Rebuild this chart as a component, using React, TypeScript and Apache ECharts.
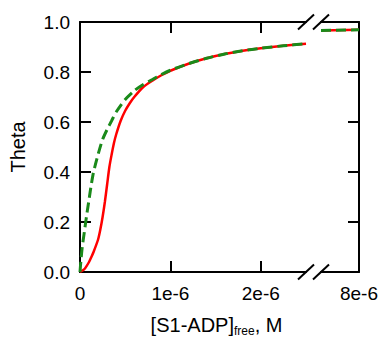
import React, { useEffect, useRef } from "react";
import * as echarts from "echarts";

// x values in units of 1e-6 M
const greenX = [0, 0.01, 0.025, 0.05, 0.075, 0.1, 0.125, 0.15, 0.2, 0.25, 0.3, 0.35, 0.4, 0.5, 0.6, 0.7, 0.8, 0.9, 1.0, 1.2, 1.4, 1.6, 1.8, 2.0, 2.25, 2.5];
const greenY = [0, 0.045, 0.1, 0.165, 0.23, 0.29, 0.35, 0.4, 0.47, 0.53, 0.57, 0.605, 0.64, 0.69, 0.725, 0.75, 0.77, 0.79, 0.807, 0.833, 0.855, 0.872, 0.885, 0.895, 0.905, 0.913];
const redX = [0, 0.05, 0.1, 0.126, 0.15, 0.2, 0.225, 0.25, 0.275, 0.3, 0.325, 0.35, 0.375, 0.4, 0.45, 0.5, 0.55, 0.6, 0.7, 0.8, 0.9, 1.0, 1.2, 1.4, 1.6, 1.8, 2.0, 2.25, 2.5];
const redY = [0, 0.012, 0.04, 0.06, 0.08, 0.13, 0.17, 0.22, 0.28, 0.35, 0.42, 0.47, 0.515, 0.55, 0.605, 0.645, 0.675, 0.7, 0.74, 0.765, 0.787, 0.805, 0.833, 0.855, 0.872, 0.885, 0.895, 0.905, 0.913];
const tailX = [7.5, 8.0];
const tailGreenY = [0.966, 0.969];
const tailRedY = [0.966, 0.969];
const leftTicks = [0, 1, 2];
const rightTicks = [8];
const yTicks = [0, 0.2, 0.4, 0.6, 0.8, 1.0];

const zip = (xs: number[], ys: number[]) => xs.map((x, i) => [x, ys[i]]);

const FONT = "'Liberation Sans', Arial, sans-serif";
const RED = "#ff0000";
const GREEN = "#1a8a1a";

export default function App() {
  const ref = useRef<HTMLDivElement>(null);
  useEffect(() => {
    document.body.style.margin = "0";
    const chart = echarts.init(ref.current!, null, { renderer: "svg" });
    const axisLine = { show: true, lineStyle: { color: "#000", width: 2 } };
    const tick = { show: true, inside: true, length: 11, lineStyle: { color: "#000", width: 2 } };
    const labelStyle = { color: "#000", fontSize: 19, fontFamily: FONT };
    const slash = (cx: number, cy: number) => ({
      type: "line",
      shape: { x1: cx - 8, y1: cy + 7.5, x2: cx + 8, y2: cy - 7.5 },
      style: { stroke: "#000", lineWidth: 2 },
      z: 100,
    });
    chart.setOption({
      animation: false,
      backgroundColor: "#fff",
      grid: [
        { left: 75, top: 22, width: 231, height: 250 },
        { left: 321, top: 22, width: 39, height: 250 },
      ],
      xAxis: [
        {
          gridIndex: 0, type: "value", min: 0, max: 2.5, interval: 1, position: "bottom",
          axisLine, axisTick: { ...tick, customValues: leftTicks },
          axisLabel: { ...labelStyle, margin: 12, customValues: leftTicks, formatter: (v: number) => (v === 0 ? "0" : `${v}e-6`) },
          splitLine: { show: false },
        },
        {
          gridIndex: 0, type: "value", min: 0, max: 2.5, interval: 1, position: "top",
          axisLine, axisTick: { ...tick, customValues: [1, 2] },
          axisLabel: { show: false }, splitLine: { show: false },
        },
        {
          gridIndex: 1, type: "value", min: 7.5, max: 8, interval: 0.5, position: "bottom",
          axisLine, axisTick: { show: false },
          axisLabel: { ...labelStyle, margin: 12, customValues: rightTicks, formatter: (v: number) => `${v}e-6` },
          splitLine: { show: false },
        },
        {
          gridIndex: 1, type: "value", min: 7.5, max: 8, interval: 0.5, position: "top",
          axisLine, axisTick: { show: false }, axisLabel: { show: false }, splitLine: { show: false },
        },
      ],
      yAxis: [
        {
          gridIndex: 0, type: "value", min: 0, max: 1, interval: 0.2, position: "left",
          axisLine, axisTick: { ...tick, customValues: yTicks },
          axisLabel: { ...labelStyle, margin: 10, customValues: yTicks, formatter: (v: number) => v.toFixed(1) },
          splitLine: { show: false },
          name: "Theta", nameLocation: "middle", nameGap: 52,
          nameTextStyle: { color: "#000", fontSize: 20, fontFamily: FONT },
        },
        {
          gridIndex: 1, type: "value", min: 0, max: 1, interval: 0.2, position: "right",
          axisLine, axisTick: { ...tick, customValues: [0.2, 0.4, 0.6, 0.8] },
          axisLabel: { show: false }, splitLine: { show: false },
        },
      ],
      graphic: [
        slash(306, 272), slash(321, 272), slash(306, 22), slash(321, 22),
        {
          type: "text", x: 216.5, y: 325, z: 100,
          style: {
            text: "{m|[S1-ADP]}{s|free}{m|, M}",
            align: "center", verticalAlign: "middle",
            rich: {
              m: { fontSize: 20, fontFamily: FONT, fill: "#000", lineHeight: 24 },
              s: { fontSize: 12, fontFamily: FONT, fill: "#000", lineHeight: 12, padding: [12, 0, 0, 0] },
            },
          },
        },
      ],
      series: [
        {
          type: "line", xAxisIndex: 0, yAxisIndex: 0, data: zip(redX, redY), showSymbol: false,
          smooth: 0.25, lineStyle: { color: RED, width: 2.5 }, z: 2,
        },
        {
          type: "line", xAxisIndex: 0, yAxisIndex: 0, data: zip(greenX, greenY), showSymbol: false,
          smooth: 0.25, lineStyle: { color: GREEN, width: 3, type: [10, 5] }, z: 3,
        },
        {
          type: "line", xAxisIndex: 2, yAxisIndex: 1, data: zip(tailX, tailRedY), showSymbol: false,
          lineStyle: { color: RED, width: 2.5 }, z: 2,
        },
        {
          type: "line", xAxisIndex: 2, yAxisIndex: 1, data: zip(tailX, tailGreenY), showSymbol: false,
          lineStyle: { color: GREEN, width: 3, type: [10, 5] }, z: 3,
        },
      ],
    });
    return () => chart.dispose();
  }, []);
  return <div ref={ref} style={{ width: 381, height: 338 }} />;
}
